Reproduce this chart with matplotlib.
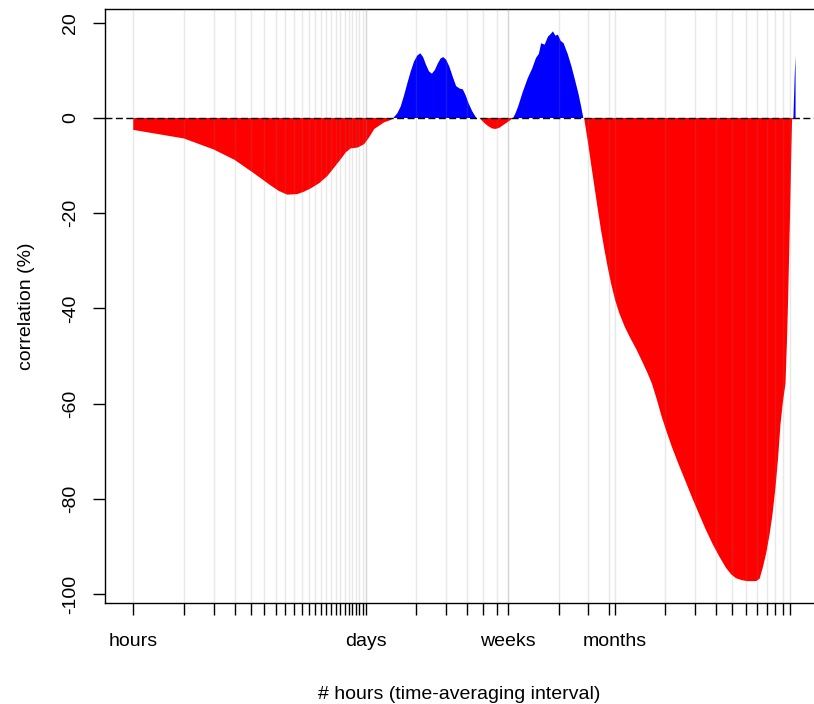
import matplotlib.pyplot as plt
import numpy as np

plt.rcParams['font.family'] = ['Liberation Sans', 'DejaVu Sans']

# time-averaging interval (hours) and correlation (%)
hours = [1, 2, 3, 4, 5.2, 6.5, 7.3, 8.2, 9.4, 10.3, 11.3, 12.7, 14.2, 15.6,
         17.1, 18.3, 19.5, 21.5, 23.5, 25, 27, 30.9, 33.9, 35,
         37, 38.7, 40.5, 42.4, 44.4, 46.5, 48.5, 50.6, 52.6, 54.7, 57,
         59.3, 61.8, 64.4, 66.8, 69.3, 72.2, 75.3, 79, 82.6, 86.5, 90.6,
         94, 97.9, 103, 108.9,
         113.8, 120, 127.9, 135, 142, 150, 157, 168, 180,
         186, 192.7, 205, 220, 233, 246, 256, 264, 277, 290, 300, 310, 321,
         332, 345, 359, 380, 400, 420, 439, 455, 470,
         475, 500, 525, 550, 574, 600, 628, 657, 687, 725, 770, 826, 886,
         970, 1065, 1130, 1200, 1280, 1375, 1470, 1580, 1730, 1893, 2080,
         2285, 2500, 2750, 3000, 3300, 3550, 3790, 4100, 4400, 5000, 5230,
         5460, 5720, 6000, 6250, 6500, 6730, 6960, 7200, 7450, 7600, 7720,
         7840, 7960, 8060, 8150, 8300, 8450, 8550]
corr = [-2.5, -4.3, -6.6, -8.8, -11.6, -14.1, -15.3, -16.1, -16.0, -15.5,
        -14.8, -13.7, -12.2, -10.4, -8.6, -7.2, -6.4, -6.2, -5.5, -4.2,
        -2.3, -0.9, -0.4, 0.0,
        1.0, 2.4, 4.7, 7.3, 9.8, 11.9, 13.1, 13.6, 12.8, 11.2, 9.8,
        9.3, 10.1, 11.5, 12.5, 12.8, 12.2, 10.8, 8.6, 6.7, 6.2, 6.0,
        4.8, 3.1, 1.4, 0.0,
        0.0, -0.9, -1.7, -2.2, -2.3, -2.0, -1.5, -0.8, 0.0,
        1.0, 2.4, 5.4, 8.4, 10.3, 12.6, 13.5, 15.7, 15.4, 17.1, 17.6, 18.2,
        17.3, 17.5, 16.2, 15.7, 13.4, 10.8, 7.9, 5.2, 2.6, 0.0,
        0.0, -5.0, -10.2, -15.0, -19.4, -23.8, -27.8, -31.5, -34.8, -38.2,
        -41.1, -43.8, -46.0, -48.6, -51.6, -53.6, -55.8, -59.0, -62.9, -66.0,
        -69.2, -72.8, -76.2, -79.8, -83.2, -86.4, -89.5, -92.0, -94.5, -95.9,
        -96.7, -97.1, -97.3, -97.3, -96.8, -94.5, -91.5, -87.4, -83.0, -77.6,
        -71.5, -64.3, -59.5, -55.8, -47.0, -38.3, -28.0, -17.3, -8.0, -0.4,
        0.0, 9.0, 13.0]

hour_ticks = list(range(1, 25))
day_ticks = [24 * d for d in range(1, 8)]
week_ticks = [168 * w for w in range(1, 5)]
month_ticks = [720 * m for m in range(1, 12)]
tick_labels = {1: 'hours', 24: 'days', 168: 'weeks', 720: 'months'}

fig = plt.figure(figsize=(8.14, 7.04), dpi=100)
ax = fig.add_axes([105 / 814, 1 - 603 / 704, 1 - 105 / 814, (603 - 9) / 704])

h = np.array(hours)
c = np.array(corr)
ax.fill_between(h, 0, c, where=c <= 0, interpolate=True, color='#ff0000', lw=0, zorder=2)
ax.fill_between(h, 0, c, where=c >= 0, interpolate=True, color='#0000ff', lw=0, zorder=2)

for t in hour_ticks + day_ticks + week_ticks + month_ticks:
    ax.axvline(t, color='grey', alpha=0.18, lw=1, zorder=3)

ax.axhline(0, color='black', lw=1, dashes=(5, 2.5), zorder=4)

ax.set_xscale('log')
ax.set_xlim(0.68, 11000)
ax.set_ylim(-101.9, 22.9)

all_ticks = sorted(set(hour_ticks + day_ticks + week_ticks + month_ticks))
ax.set_xticks(all_ticks)
ax.set_xticklabels([tick_labels.get(t, '') for t in all_ticks])
ax.xaxis.set_minor_locator(plt.NullLocator())
ax.tick_params(axis='x', length=8.5, width=1, pad=13, labelsize=14)

ax.set_yticks([-100, -80, -60, -40, -20, 0, 20])
ax.set_yticklabels(['-100', '-80', '-60', '-40', '-20', '0', '20'],
                   rotation=90, va='center')
ax.tick_params(axis='y', length=8.5, width=1, pad=10, labelsize=14)

ax.spines['right'].set_visible(False)
for s in ['left', 'top', 'bottom']:
    ax.spines[s].set_linewidth(1)

ax.set_xlabel('# hours (time-averaging interval)', fontsize=14, labelpad=26)
ax.set_ylabel('correlation (%)', fontsize=14, labelpad=20)

fig.savefig('out.png', dpi=100)
